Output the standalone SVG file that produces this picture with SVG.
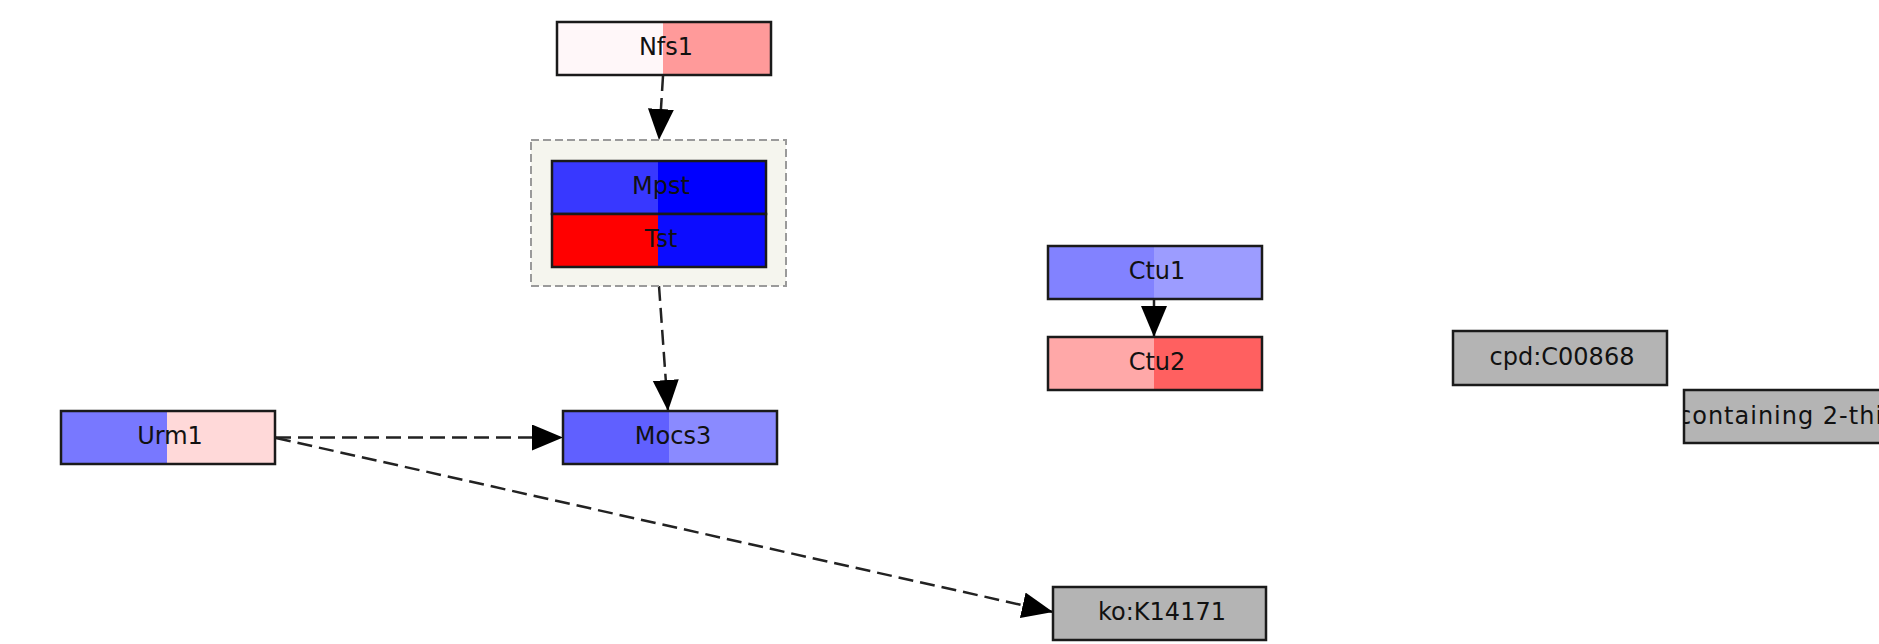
<svg xmlns="http://www.w3.org/2000/svg" width="1879" height="644" viewBox="0 0 1879 644">
<style>
  .box{stroke:#1a1a1a;stroke-width:2.5}
  .half{stroke:none}
  .lbl{font-family:"DejaVu Sans","Liberation Sans",sans-serif;font-size:24px;fill:#111;text-anchor:middle}
  .edge{fill:none;stroke:#222;stroke-width:2.5}
  .dash{stroke-dasharray:15 7}
  .grp{fill:#f5f5ee;stroke:#9a9a9a;stroke-width:2;stroke-dasharray:8 4}
  .gray{fill:#b4b4b4}
</style>
<defs>
  <marker id="arr" markerUnits="userSpaceOnUse" markerWidth="34" markerHeight="28" refX="31" refY="13" orient="auto">
    <path d="M0,0 L31,13 L0,26 Z" fill="#000"/>
  </marker>
  <clipPath id="clipCont"><rect x="1684" y="390" width="214" height="53"/></clipPath>
</defs>

<g id="connectors">
  <path class="edge dash" d="M663,76 L659,140" marker-end="url(#arr)"/>
  <path class="edge dash" d="M659,286 L668,411" marker-end="url(#arr)"/>
  <path class="edge dash" d="M276,437.5 L563,437.5" marker-end="url(#arr)"/>
  <path class="edge dash" d="M276,438 L1053,612" marker-end="url(#arr)"/>
  <path class="edge" d="M1154,299 L1154,337" marker-end="url(#arr)"/>
</g>

<g id="node-Nfs1">
  <rect class="half" x="557" y="22" width="106" height="53" fill="#fff7f9"/>
  <rect class="half" x="663" y="22" width="108" height="53" fill="#ff9a9a"/>
  <rect class="box" x="557" y="22" width="214" height="53" fill="none"/>
  <text class="lbl" x="666" y="55">Nfs1</text>
</g>

<g id="group-Mpst-Tst">
  <rect class="grp" x="531" y="140" width="255" height="146"/>
  <g id="node-Mpst">
    <rect class="half" x="552" y="161" width="106" height="53" fill="#3838ff"/>
    <rect class="half" x="658" y="161" width="108" height="53" fill="#0000ff"/>
    <rect class="box" x="552" y="161" width="214" height="53" fill="none"/>
    <text class="lbl" x="661" y="194">Mpst</text>
  </g>
  <g id="node-Tst">
    <rect class="half" x="552" y="214" width="106" height="53" fill="#ff0000"/>
    <rect class="half" x="658" y="214" width="108" height="53" fill="#0c0cff"/>
    <rect class="box" x="552" y="214" width="214" height="53" fill="none"/>
    <text class="lbl" x="661" y="247">Tst</text>
  </g>
</g>

<g id="node-Urm1">
  <rect class="half" x="61" y="411" width="106" height="53" fill="#7878ff"/>
  <rect class="half" x="167" y="411" width="108" height="53" fill="#ffd9d9"/>
  <rect class="box" x="61" y="411" width="214" height="53" fill="none"/>
  <text class="lbl" x="170" y="444">Urm1</text>
</g>

<g id="node-Mocs3">
  <rect class="half" x="563" y="411" width="106" height="53" fill="#6060ff"/>
  <rect class="half" x="669" y="411" width="108" height="53" fill="#8a8aff"/>
  <rect class="box" x="563" y="411" width="214" height="53" fill="none"/>
  <text class="lbl" x="673" y="444">Mocs3</text>
</g>

<g id="node-Ctu1">
  <rect class="half" x="1048" y="246" width="106" height="53" fill="#8282ff"/>
  <rect class="half" x="1154" y="246" width="108" height="53" fill="#9c9cff"/>
  <rect class="box" x="1048" y="246" width="214" height="53" fill="none"/>
  <text class="lbl" x="1157" y="279">Ctu1</text>
</g>

<g id="node-Ctu2">
  <rect class="half" x="1048" y="337" width="106" height="53" fill="#ffa8a8"/>
  <rect class="half" x="1154" y="337" width="108" height="53" fill="#ff6060"/>
  <rect class="box" x="1048" y="337" width="214" height="53" fill="none"/>
  <text class="lbl" x="1157" y="370">Ctu2</text>
</g>

<g id="node-cpd-C00868">
  <rect class="box gray" x="1453" y="331" width="214" height="54"/>
  <text class="lbl" x="1562" y="365">cpd:C00868</text>
</g>

<g id="node-containing">
  <rect class="box gray" x="1684" y="390" width="214" height="53"/>
  <text class="lbl" x="1678" y="424" style="text-anchor:start;letter-spacing:1px" clip-path="url(#clipCont)">containing 2-thi</text>
</g>

<g id="node-ko-K14171">
  <rect class="box gray" x="1053" y="587" width="213" height="53"/>
  <text class="lbl" x="1162" y="620">ko:K14171</text>
</g>
</svg>
